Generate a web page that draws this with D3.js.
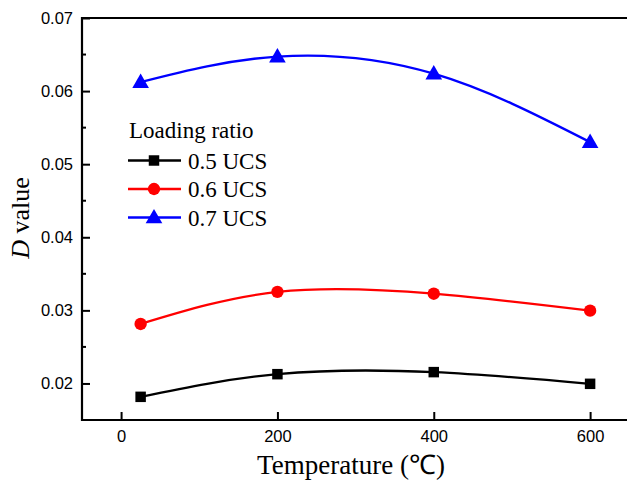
<!DOCTYPE html>
<html>
<head>
<meta charset="utf-8">
<script src="https://cdn.jsdelivr.net/npm/d3@7"></script>
<style>
  html, body { margin: 0; padding: 0; background: #fff; }
  svg { display: block; }
</style>
</head>
<body>
<svg id="chart" width="627" height="482"></svg>
<script>
// Temperature (°C) for each test
const temperatures = [25, 200, 400, 600];
// D value per loading ratio
const ucs05 = [0.01817, 0.02127, 0.02155, 0.01995];
const ucs06 = [0.02814, 0.03252, 0.03228, 0.02996];
const ucs07 = [0.06123, 0.06472, 0.06238, 0.05302];
const seriesNames = ["0.5 UCS", "0.6 UCS", "0.7 UCS"];
const seriesColors = ["#000000", "#ff0000", "#0000ff"];
const seriesSymbols = [d3.symbolSquare, d3.symbolCircle, d3.symbolTriangle];
const symbolSizes = [110, 120, 120];
const xTicks = [0, 200, 400, 600];
const yTicks = [0.02, 0.03, 0.04, 0.05, 0.06, 0.07];
const yMinorTicks = [0.025, 0.035, 0.045, 0.055, 0.065];

const svg = d3.select("#chart");
const plotLeft = 82, plotTop = 18, plotBottom = 420;

const x = d3.scaleLinear().domain([-50, 650]).range([plotLeft, plotLeft + 700 * 0.7817]);
const y = d3.scaleLinear().domain([0.015, 0.07]).range([plotBottom, plotTop]);

const series = [ucs05, ucs06, ucs07].map((vals, i) => ({
  name: seriesNames[i], color: seriesColors[i], symbol: seriesSymbols[i], size: symbolSizes[i],
  points: temperatures.map((t, j) => [t, vals[j]])
}));

// frame lines: top, left, bottom
const frame = svg.append("g").attr("stroke", "#000").attr("stroke-width", 2.2).attr("fill", "none");
frame.append("line").attr("x1", plotLeft).attr("x2", 627).attr("y1", plotTop).attr("y2", plotTop);
frame.append("line").attr("x1", plotLeft).attr("x2", plotLeft).attr("y1", plotTop - 1).attr("y2", plotBottom + 1);
frame.append("line").attr("x1", plotLeft - 1).attr("x2", 627).attr("y1", plotBottom).attr("y2", plotBottom);

const sans = "Arial, 'Liberation Sans', sans-serif";

// y axis (inward ticks)
const yAxis = d3.axisLeft(y).tickValues(yTicks).tickFormat(d3.format(".2f")).tickSizeInner(-8).tickSizeOuter(0).tickPadding(9);
const gy = svg.append("g").attr("transform", `translate(${plotLeft},0)`).call(yAxis);
gy.select(".domain").remove();
gy.selectAll(".tick line").attr("stroke-width", 2);
gy.selectAll("text").attr("font-family", sans).attr("font-size", 16.5).attr("fill", "#000");
gy.selectAll(".minor").data(yMinorTicks).enter().append("line")
  .attr("x1", 0).attr("x2", 4).attr("y1", d => y(d)).attr("y2", d => y(d))
  .attr("stroke", "#000").attr("stroke-width", 2);

// x axis
const xAxis = d3.axisBottom(x).tickValues(xTicks).tickSizeInner(-8).tickSizeOuter(0).tickPadding(10);
const gx = svg.append("g").attr("transform", `translate(0,${plotBottom})`).call(xAxis);
gx.select(".domain").remove();
gx.selectAll(".tick line").attr("stroke-width", 2);
gx.selectAll("text").attr("font-family", sans).attr("font-size", 16.5).attr("fill", "#000");

// curves
const line = d3.line().x(d => x(d[0])).y(d => y(d[1])).curve(d3.curveNatural);
series.forEach(s => {
  svg.append("path").datum(s.points).attr("d", line)
    .attr("fill", "none").attr("stroke", s.color).attr("stroke-width", 2.3);
  svg.append("g").selectAll("path").data(s.points).enter().append("path")
    .attr("d", d3.symbol().type(s.symbol).size(s.size))
    .attr("transform", d => `translate(${x(d[0])},${y(d[1]) + (s.symbol === d3.symbolTriangle ? 1 : 0)})`)
    .attr("fill", s.color);
});

// legend
const serif = "'Times New Roman', 'Liberation Serif', serif";
const lg = svg.append("g").attr("font-family", serif).attr("font-size", 23).attr("fill", "#000");
lg.append("text").attr("x", 129).attr("y", 138).text("Loading ratio");
series.forEach((s, i) => {
  const cy = 160.5 + i * 28.5;
  lg.append("line").attr("x1", 128).attr("x2", 181).attr("y1", cy).attr("y2", cy)
    .attr("stroke", s.color).attr("stroke-width", 2.3);
  lg.append("path").attr("d", d3.symbol().type(s.symbol).size(s.size))
    .attr("transform", `translate(154,${cy + (s.symbol === d3.symbolTriangle ? 1 : 0)})`).attr("fill", s.color);
  lg.append("text").attr("x", 188).attr("y", cy + 8).text(s.name);
});

// axis titles
svg.append("text").attr("x", 351).attr("y", 474).attr("text-anchor", "middle")
  .attr("font-family", serif).attr("font-size", 27).text("Temperature (℃)");
const yt = svg.append("text").attr("transform", "translate(29,218) rotate(-90)").attr("text-anchor", "middle")
  .attr("font-family", serif).attr("font-size", 26);
yt.append("tspan").attr("font-style", "italic").text("D");
yt.append("tspan").text(" value");
</script>
</body>
</html>
